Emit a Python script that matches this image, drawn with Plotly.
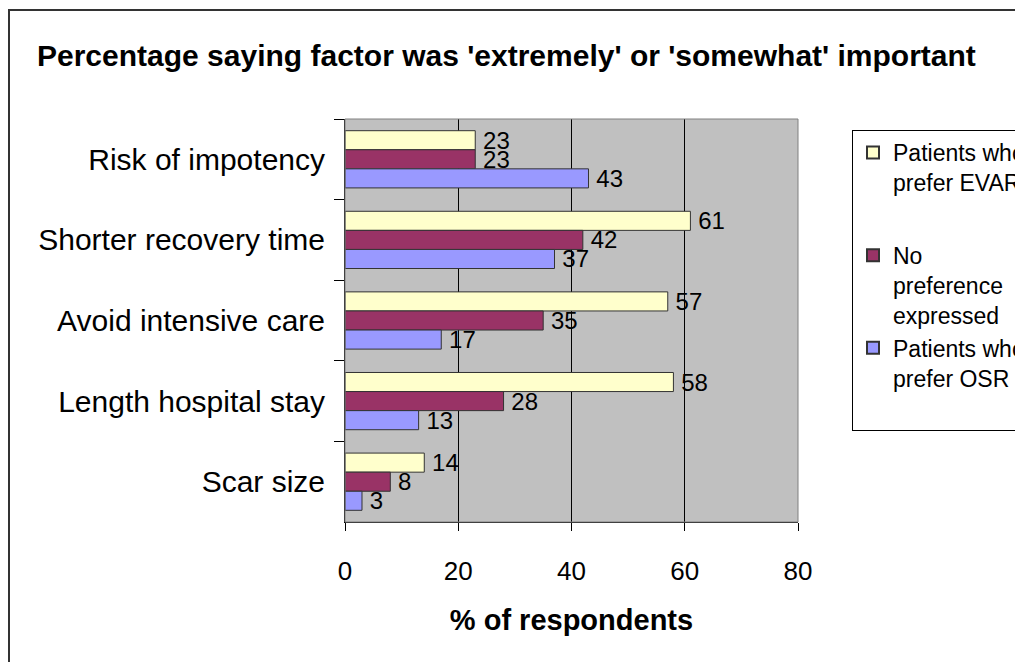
import plotly.graph_objects as go

# listed top to bottom as shown in the chart
categories = ["Risk of impotency", "Shorter recovery time", "Avoid intensive care",
              "Length hospital stay", "Scar size"]
evar = [23, 61, 57, 58, 14]
nopref = [23, 42, 35, 28, 8]
osr = [43, 37, 17, 13, 3]

series_names = ["Patients who<br>prefer EVAR<br> ",
                "No<br>preference<br>expressed",
                "Patients who<br>prefer OSR<br> "]
colors = ["#FFFFCC", "#993366", "#9999FF"]

W, H = 1023, 662
L, T = 337, 111
PW, PH = 453, 403

fig = go.Figure()
for name, vals, col, grp in [(series_names[0], evar, colors[0], "e"),
                             (series_names[1], nopref, colors[1], "n"),
                             (series_names[2], osr, colors[2], "n")]:
    fig.add_trace(go.Bar(
        y=categories, x=vals, orientation="h", name=name, legendgroup=grp,
        marker=dict(color=col, line=dict(color="#333333", width=1)),
        text=["\u2009" + str(v) for v in vals], textposition="outside",
        textfont=dict(size=24, color="black", family="Liberation Sans, Arial"),
        constraintext="none",
        cliponaxis=False,
    ))

fig.update_layout(
    width=W, height=H,
    paper_bgcolor="white", plot_bgcolor="#C0C0C0",
    font=dict(family="Liberation Sans, Arial", color="black"),
    margin=dict(l=L, r=W - L - PW, t=T, b=H - T - PH, autoexpand=False),
    barmode="group", bargap=0.29, bargroupgap=0,
    title=dict(text="<b>Percentage saying factor was 'extremely' or 'somewhat' important</b>",
               x=29 / W, xanchor="left", y=1 - 47 / H, yanchor="middle",
               font=dict(size=30)),
    xaxis=dict(range=[0, 80], dtick=20, showgrid=True, gridcolor="black", gridwidth=1,
               ticks="outside", ticklen=8, tickcolor="black",
               showline=True, linecolor="black", zeroline=False,
               tickfont=dict(size=26), ticklabelstandoff=18,
               title=dict(text="<b>% of respondents</b>", font=dict(size=29), standoff=24)),
    yaxis=dict(autorange="reversed", tickson="boundaries", ticks="outside", ticklen=10,
               tickcolor="black", showline=True, linecolor="black", tickfont=dict(size=30),
               ticklabelstandoff=13),
    legend=dict(x=(844 - L) / PW, xanchor="left", y=1 - (122 - T) / PH, yanchor="top",
                bordercolor="black", borderwidth=1, bgcolor="white",
                font=dict(size=23), valign="top", itemsizing="constant",
                traceorder="grouped", tracegroupgap=10),
    shapes=[
        dict(type="rect", xref="paper", yref="paper", x0=0, x1=1, y0=0, y1=1,
             line=dict(color="#808080", width=1), layer="above"),
        dict(type="rect", xref="paper", yref="paper",
             x0=(1 - L) / PW, x1=3, y0=-2, y1=1 + (T - 2) / PH,
             line=dict(color="#333333", width=2)),
    ],
)
fig.write_html("out.html")
